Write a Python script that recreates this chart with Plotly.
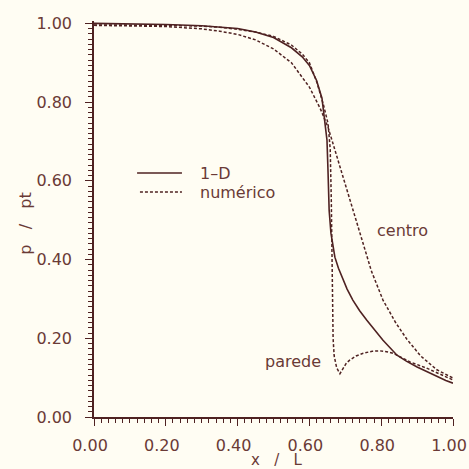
import plotly.graph_objects as go

# ---- data ----
x_1d = [0.0, 0.1, 0.2, 0.3, 0.35, 0.4, 0.45, 0.5, 0.55, 0.58, 0.6, 0.62, 0.635, 0.643, 0.649,
        0.652, 0.655, 0.66, 0.671, 0.681, 0.691, 0.705, 0.721, 0.74, 0.76, 0.78, 0.805, 0.844,
        0.87, 0.9, 0.93, 0.955, 0.98, 1.0]
p_1d = [1.0, 0.999, 0.997, 0.994, 0.991, 0.987, 0.978, 0.964, 0.938, 0.915, 0.893, 0.855, 0.81,
        0.755, 0.703, 0.62, 0.525, 0.467, 0.406, 0.378, 0.355, 0.325, 0.297, 0.27, 0.246, 0.222,
        0.195, 0.157, 0.142, 0.127, 0.114, 0.102, 0.093, 0.086]

x_centro = [0.0, 0.1, 0.2, 0.3, 0.35, 0.4, 0.45, 0.5, 0.55, 0.6, 0.63, 0.652, 0.677, 0.7, 0.72,
            0.741, 0.773, 0.805, 0.84, 0.872, 0.91, 0.955, 1.0]
p_centro = [0.995, 0.994, 0.992, 0.986, 0.98, 0.972, 0.958, 0.935, 0.9, 0.838, 0.784, 0.736,
            0.66, 0.594, 0.535, 0.467, 0.37, 0.297, 0.24, 0.197, 0.155, 0.12, 0.099]

x_parede = [0.0, 0.1, 0.2, 0.3, 0.35, 0.4, 0.45, 0.5, 0.55, 0.58, 0.6, 0.621, 0.64, 0.652,
            0.658, 0.661, 0.663, 0.664, 0.666, 0.669, 0.676, 0.685, 0.693, 0.703, 0.713, 0.73,
            0.75, 0.775, 0.797, 0.815, 0.833, 0.88, 0.927, 0.96, 1.0]
p_parede = [0.996, 0.996, 0.995, 0.993, 0.99, 0.985, 0.978, 0.967, 0.945, 0.922, 0.9, 0.85,
            0.79, 0.745, 0.68, 0.55, 0.4, 0.3, 0.2, 0.155, 0.125, 0.11, 0.123, 0.137, 0.145,
            0.155, 0.162, 0.167, 0.168, 0.166, 0.162, 0.14, 0.124, 0.11, 0.094]

x_ticks = [0.0, 0.2, 0.4, 0.6, 0.8, 1.0]
y_ticks = [0.0, 0.2, 0.4, 0.6, 0.8, 1.0]
x_tick_text = ["0.00", "0.20", "0.40", "0.60", "0.80", "1.00"]
y_tick_text = ["0.00", "0.20", "0.40", "0.60", "0.80", "1.00"]

label_1d = "1\u2013D"
label_num = "numérico"
label_centro = "centro"
label_parede = "parede"
x_title = "x\u00a0\u00a0\u00a0/\u00a0\u00a0\u00a0L"
y_title = "p\u00a0\u00a0\u00a0/\u00a0\u00a0\u00a0pt"

LINE = "#4f2222"
TEXT = "#6a3a36"
BG = "#fffdf3"
FONT = "DejaVu Sans"
DASH = "3px,2px"

fig = go.Figure()
fig.add_trace(go.Scatter(x=x_1d, y=p_1d, mode="lines", name=label_1d,
                         line=dict(color=LINE, width=1.6), showlegend=False))
fig.add_trace(go.Scatter(x=x_centro, y=p_centro, mode="lines", name=label_num,
                         line=dict(color=LINE, width=1.5, dash=DASH), showlegend=False))
fig.add_trace(go.Scatter(x=x_parede, y=p_parede, mode="lines", name=label_num,
                         line=dict(color=LINE, width=1.5, dash=DASH), showlegend=False))

axis_common = dict(
    showline=True, linecolor=LINE, linewidth=1.5, showgrid=False, zeroline=False,
    ticks="outside", ticklen=7, tickwidth=1.4, tickcolor=LINE,
    tickfont=dict(family=FONT, size=16, color=TEXT),
    mirror=False, ticklabeloverflow="allow", automargin=False,
)
fig.update_xaxes(range=[0, 1.0], tickvals=x_ticks, ticktext=x_tick_text,
                 minor=dict(ticks="outside", ticklen=4, tickwidth=1.3, tickcolor=LINE, dtick=0.02),
                 ticklabelstandoff=6, ticklabelshift=-4, **axis_common)
fig.update_yaxes(range=[0, 1.006], tickvals=y_ticks, ticktext=y_tick_text,
                 minor=dict(ticks="outside", ticklen=4, tickwidth=1.3, tickcolor=LINE, dtick=0.2 / 15),
                 ticklabelstandoff=10, **axis_common)

# curve labels
fig.add_annotation(x=0.858, y=0.475, xref="x", yref="y", text=label_centro, showarrow=False,
                   font=dict(family=FONT, size=16, color=TEXT))
fig.add_annotation(x=0.554, y=0.142, xref="x", yref="y", text=label_parede, showarrow=False,
                   font=dict(family=FONT, size=16, color=TEXT))
# axis titles
fig.add_annotation(x=0.51, y=-0.1086, xref="paper", yref="paper", text=x_title, showarrow=False,
                   font=dict(family=FONT, size=15, color=TEXT), yanchor="middle")
fig.add_annotation(x=-0.19, y=0.49, xref="paper", yref="paper", text=y_title, showarrow=False,
                   textangle=-90, font=dict(family=FONT, size=16, color=TEXT),
                   xanchor="center", yanchor="middle")

# hand-drawn style legend (key samples + labels)
legend_rows = [(label_1d, "solid", 0.120, 0.616), (label_num, DASH, 0.128, 0.568)]
for txt, dash, x0, yy in legend_rows:
    fig.add_shape(type="line", xref="paper", yref="paper", x0=x0, x1=0.245, y0=yy, y1=yy,
                  line=dict(color=LINE, width=1.6 if dash == "solid" else 1.5, dash=dash))
    fig.add_annotation(x=0.29, y=yy, xref="paper", yref="paper", text=txt, showarrow=False,
                       xanchor="left", yanchor="middle",
                       font=dict(family=FONT, size=16, color=TEXT))

fig.update_layout(
    width=469, height=469,
    margin=dict(l=94, r=16, t=21, b=52, autoexpand=False),
    paper_bgcolor=BG, plot_bgcolor=BG,
    font=dict(family=FONT, color=TEXT),
    showlegend=False,
)

fig.write_html("out.html")
